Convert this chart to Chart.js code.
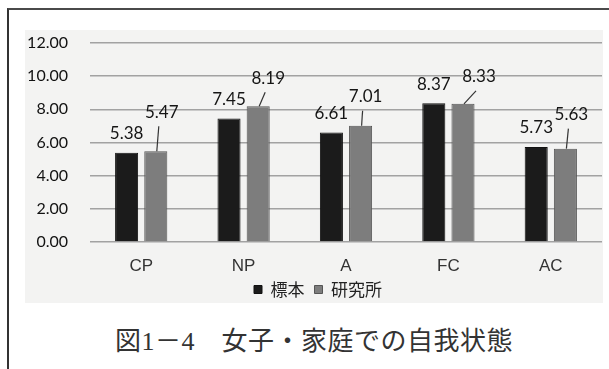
<!DOCTYPE html>
<html lang="ja">
<head>
<meta charset="utf-8">
<title>女子・家庭での自我状態</title>
<script src="https://cdn.jsdelivr.net/npm/chart.js@4.4.1/dist/chart.umd.min.js"></script>
<style>
  html, body { margin: 0; padding: 0; background: #fff; }
  body { width: 609px; height: 369px; position: relative; overflow: hidden; }
  #frame {
    position: absolute; left: 7px; top: 8px; width: 620px; height: 380px;
    border-top: 2px solid #4a4a4a; border-left: 2px solid #333;
  }
  #paper {
    position: absolute; left: 25px; top: 30px; width: 578px; height: 273px;
    background: #f3f3f2;
  }
  #chartBox { position: absolute; left: 0; top: 0; width: 609px; height: 312px; }
  #caption {
    position: absolute; left: 0; width: 628px; top: 320px; text-align: center;
    font-family: "Liberation Serif", "Noto Sans CJK JP", serif;
    font-size: 26px; color: #333; letter-spacing: 0.5px;
  }
</style>
</head>
<body>
<div id="frame"></div>
<div id="paper"></div>
<div id="chartBox"><canvas id="egoChart"></canvas></div>
<div id="caption">図1－4　女子・家庭での自我状態</div>

<script>
// ego-state scores, girls / home
const categories = ['CP', 'NP', 'A', 'FC', 'AC'];
const seriesNames = ['標本', '研究所'];
const sampleValues = [5.38, 7.45, 6.61, 8.37, 5.73];
const instituteValues = [5.47, 8.19, 7.01, 8.33, 5.63];
const yTicks = [0, 2, 4, 6, 8, 10, 12];

// the 研究所 labels sit off to the side with a short leader line
const calloutOffsets = [[6, -39], [10, -28], [5, -29], [16, -27], [6, -34]];

const valueLabels = {
    id: 'valueLabels',
    afterLayout(chart) {
        // legend sits a little right of the plot's centre
        chart.legend.left += 7;
        chart.legend.right += 7;
    },
    afterDatasetsDraw(chart) {
        const ctx = chart.ctx;
        ctx.save();
        ctx.font = '17px Lato';
        ctx.fillStyle = '#151515';
        ctx.textAlign = 'center';
        ctx.textBaseline = 'middle';

        chart.getDatasetMeta(0).data.forEach((bar, i) => {
            ctx.fillText(sampleValues[i].toFixed(2), bar.x, bar.y - 19);
        });

        ctx.strokeStyle = '#333';
        ctx.lineWidth = 1.2;
        chart.getDatasetMeta(1).data.forEach((bar, i) => {
            const [dx, dy] = calloutOffsets[i];
            const lx = bar.x + dx, ly = bar.y + dy;
            ctx.beginPath();
            ctx.moveTo(bar.x + 1, bar.y);
            ctx.lineTo(lx - 3, ly + 14);
            ctx.stroke();
            ctx.fillText(instituteValues[i].toFixed(2), lx, ly);
        });
        ctx.restore();
    }
};

function initChart() {
    const canvas = document.getElementById('egoChart');
    if (!canvas) return;

    new Chart(canvas.getContext('2d'), {
        type: 'bar',
        data: {
            labels: categories,
            datasets: [{
                label: seriesNames[0],
                data: sampleValues,
                backgroundColor: '#1b1b1b',
                borderColor: '#111',
                borderWidth: 1
            }, {
                label: seriesNames[1],
                data: instituteValues,
                backgroundColor: '#7d7d7d',
                borderColor: '#555',
                borderWidth: 1
            }]
        },
        options: {
            responsive: true,
            maintainAspectRatio: false,
            animation: false,
            categoryPercentage: 0.57,
            barPercentage: 0.79,
            layout: { padding: { left: 20, right: 7, top: 43, bottom: 4 } },
            scales: {
                x: {
                    grid: { display: false, drawTicks: false },
                    border: { display: false },
                    ticks: {
                        padding: 14,
                        color: '#333',
                        font: { family: 'Liberation Sans', size: 17 }
                    },
                    afterFit(scale) { scale.height = 29; }
                },
                y: {
                    min: 0,
                    max: 12,
                    afterBuildTicks(scale) {
                        scale.ticks = yTicks.map(v => ({ value: v }));
                    },
                    afterFit(scale) { scale.width = 70; },
                    grid: { color: '#a2a2a2', lineWidth: 1.6, drawTicks: false },
                    border: { display: false },
                    ticks: {
                        padding: 22,
                        color: '#111',
                        font: { family: 'Lato', size: 16 },
                        callback: v => Number(v).toFixed(2)
                    }
                }
            },
            plugins: {
                legend: {
                    position: 'bottom',
                    labels: {
                        boxWidth: 8,
                        boxHeight: 8,
                        padding: 10,
                        color: '#222',
                        font: { family: 'Noto Sans CJK JP', size: 17 }
                    }
                },
                tooltip: { enabled: false }
            }
        },
        plugins: [valueLabels]
    });
}

document.addEventListener('DOMContentLoaded', initChart);
</script>
</body>
</html>
